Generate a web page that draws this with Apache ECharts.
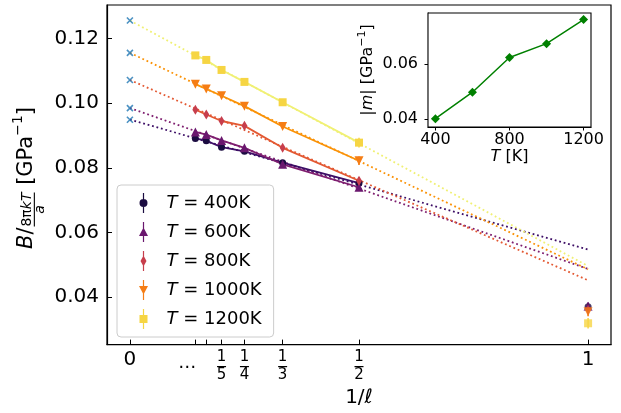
<!DOCTYPE html>
<html>
<head>
<meta charset="utf-8">
<script src="https://cdn.jsdelivr.net/npm/echarts@6/dist/echarts.min.js"></script>
<style>
  html, body { margin: 0; padding: 0; background: #fff; }
  #chart { width: 621px; height: 413px; }
</style>
</head>
<body>
<div id="chart"></div>
<script>
const FONT = 'DejaVu Sans';

// x positions of the measured points (1/l)
const invL = [1/7, 1/6, 1/5, 1/4, 1/3, 1/2];
const temps = ['400K', '600K', '800K', '1000K', '1200K'];

// B / (8 pi k T / a) at each 1/l, one array per temperature
const b400 = [0.0891, 0.0884, 0.0864, 0.0851, 0.0816, 0.0753];
const b600 = [0.0911, 0.0903, 0.0885, 0.0862, 0.0811, 0.0740];
const b800 = [0.0980, 0.0965, 0.0945, 0.0930, 0.0862, 0.0760];
const b1000 = [0.1059, 0.1044, 0.1023, 0.0991, 0.0928, 0.0822];
const b1200 = [0.1148, 0.1134, 0.1103, 0.1066, 0.1003, 0.0878];
const bAtOne = [0.0370, 0.0372, 0.0361, 0.0355, 0.0319];

// error bars
const err400 = [0.0004, 0.0004, 0.0004, 0.0004, 0.0006, 0.0010];
const err600 = [0.0004, 0.0004, 0.0004, 0.0004, 0.0006, 0.0010];
const err800 = [0.0005, 0.0005, 0.0005, 0.0005, 0.0007, 0.0012];
const err1000 = [0.0005, 0.0005, 0.0005, 0.0005, 0.0008, 0.0013];
const err1200 = [0.0005, 0.0005, 0.0005, 0.0006, 0.0009, 0.0015];
const errAtOne = [0.0012, 0.0012, 0.0013, 0.0014, 0.0016];

// linear fits: value at 1/l = 0 (crosses) and at 1/l = 1
const fitAtZero = [0.0949, 0.0985, 0.1072, 0.1156, 0.1256];
const fitAtOne = [0.0547, 0.0487, 0.0452, 0.0486, 0.0496];

// inset: |m| against T
const insetT = [400, 600, 800, 1000, 1200];
const slopeAbs = [0.0401, 0.0497, 0.0623, 0.0673, 0.0760];
const slopeErr = [0.0008, 0.0008, 0.0016, 0.0010, 0.0010];

// ticks
const xTickVals = [0, 1/7, 1/6, 1/5, 1/4, 1/3, 1/2, 1];
const xLabelVals = [0, 1/8, 1/5, 1/4, 1/3, 1/2, 1];
const xLabelText = ['0', '…', '1/5', '1/4', '1/3', '1/2', '1'];
const yTickVals = [0.04, 0.06, 0.08, 0.10, 0.12];
const insetXTicks = [400, 800, 1200];
const insetYTicks = [0.04, 0.06];

const bAll = [b400, b600, b800, b1000, b1200];
const errAll = [err400, err600, err800, err1000, err1200];

const markerColors = ['#1b0c41', '#6a176e', '#c73e4c', '#f57d15', '#f6d543'];
const lineColors = ['#3d0e66', '#7e1e6f', '#e35933', '#fa9207', '#f0f074'];
const symbols = ['circle', 'triangle', 'diamond', 'triangle', 'rect'];
const symbolSizes = [7, 9, [6, 10], 9, 8];
const symbolRot = [0, 0, 0, 180, 0];
const legendIcons = [
  'path://M4.4,0h1.2v20h-1.2Z M1,10a4,4 0 1,1 8,0a4,4 0 1,1 -8,0Z',
  'path://M4.4,0h1.2v20h-1.2Z M5,5.5L9.5,14H0.5Z',
  'path://M4.4,0h1.2v20h-1.2Z M5,4.5L8,10L5,15.5L2,10Z',
  'path://M4.4,0h1.2v20h-1.2Z M0.5,6H9.5L5,14.5Z',
  'path://M4.4,0h1.2v20h-1.2Z M1,6H9V14H1Z'
];

function errorSeries(data, color, xi) {
  return {
    type: 'custom',
    xAxisIndex: xi, yAxisIndex: xi,
    silent: true,
    z: 3,
    data: data,
    renderItem: function (params, api) {
      const x = api.value(0), y = api.value(1), e = api.value(2);
      const p1 = api.coord([x, y - e]);
      const p2 = api.coord([x, y + e]);
      return {
        type: 'line',
        shape: { x1: p1[0], y1: p1[1], x2: p2[0], y2: p2[1] },
        style: { stroke: color, lineWidth: 1.5 }
      };
    }
  };
}

function xLabelFormat(v) {
  let idx = xLabelVals.findIndex(function (t) { return Math.abs(t - v) < 1e-6; });
  if (idx < 0) return '';
  const t = xLabelText[idx];
  if (t.indexOf('/') >= 0) {
    const p = t.split('/');
    return '{n|' + p[0] + '}\n{bar|}\n{d|' + p[1] + '}';
  }
  if (t === '…') return '{dots|…}';
  return '{big|' + t + '}';
}

const series = [];
temps.forEach(function (name, i) {
  const pts = invL.map(function (x, j) { return [x, bAll[i][j], errAll[i][j]]; });
  pts.push([1, bAtOne[i], errAtOne[i]]);
  series.push({
    name: name + '-fit',
    type: 'line',
    data: [[0, fitAtZero[i]], [1, fitAtOne[i]]],
    showSymbol: false,
    silent: true,
    z: 1,
    lineStyle: { color: lineColors[i], width: 1.8, type: [1.8, 2.8], cap: 'butt' }
  });
  series.push(errorSeries(pts, markerColors[i], 0));
  series.push({
    name: name,
    type: 'line',
    data: invL.map(function (x, j) { return [x, bAll[i][j]]; }),
    symbol: symbols[i],
    symbolSize: symbolSizes[i],
    symbolRotate: symbolRot[i],
    showAllSymbol: true,
    z: 4,
    itemStyle: { color: markerColors[i] },
    lineStyle: { color: lineColors[i], width: 1.8 }
  });
  series.push({
    name: name + '-one',
    type: 'scatter',
    data: [[1, bAtOne[i]]],
    symbol: symbols[i],
    symbolSize: symbolSizes[i],
    symbolRotate: symbolRot[i],
    z: 4,
    itemStyle: { color: markerColors[i] }
  });
});
series.push({
  name: 'intercepts',
  type: 'scatter',
  data: fitAtZero.map(function (v) { return [0, v]; }),
  symbol: 'path://M0,0L10,10M10,0L0,10',
  symbolSize: 6,
  z: 5,
  itemStyle: { color: 'none', borderColor: '#1f77b4', borderWidth: 1.6 }
});
series.push(errorSeries(insetT.map(function (t, j) { return [t, slopeAbs[j], slopeErr[j]]; }), '#008000', 1));
series.push({
  name: 'slope',
  type: 'line',
  xAxisIndex: 1, yAxisIndex: 1,
  data: insetT.map(function (t, j) { return [t, slopeAbs[j]]; }),
  symbol: 'diamond',
  symbolSize: [9, 9],
  z: 10,
  itemStyle: { color: '#008000' },
  lineStyle: { color: '#008000', width: 1.5 }
});

// rotated y-axis title  B/(8πkT/a) [GPa^-1]
function textWidth(txt, font) {
  const c = document.createElement('canvas').getContext('2d');
  c.font = font;
  return c.measureText(txt).width;
}
const yl = 21, ys = 14, ysup = 14;
const wB = textWidth('B', 'italic ' + yl + 'px ' + FONT);
const wSl = textWidth('/', yl + 'px ' + FONT);
const wNum = textWidth('8π', ys + 'px ' + FONT) + textWidth('kT', 'italic ' + ys + 'px ' + FONT);
const wSp = textWidth(' ', yl + 'px ' + FONT);
const wG = textWidth('[GPa', yl + 'px ' + FONT);
const wSup = textWidth('−1', ysup + 'px ' + FONT);
const wEnd = textWidth(']', yl + 'px ' + FONT);
const total = wB + wSl + wNum + 2 + wSp + wG + wSup + wEnd;
let cx = -total / 2;
const yChildren = [];
yChildren.push({ type: 'text', x: cx, y: -6, style: { text: 'B', font: 'italic ' + yl + 'px ' + FONT, fill: '#000', verticalAlign: 'middle' } });
cx += wB;
yChildren.push({ type: 'text', x: cx, y: -6, style: { text: '/', font: yl + 'px ' + FONT, fill: '#000', verticalAlign: 'middle' } });
cx += wSl;
const fc = cx + 1 + wNum / 2;
yChildren.push({ type: 'text', x: fc, y: -6, style: { text: '8π{i|kT}', font: ys + 'px ' + FONT, fill: '#000', align: 'center', verticalAlign: 'middle', rich: { i: { fontStyle: 'italic', fontSize: ys, fontFamily: FONT } } } });
yChildren.push({ type: 'rect', shape: { x: cx + 1, y: 0.8, width: wNum, height: 1.1 }, style: { fill: '#000' } });
yChildren.push({ type: 'text', x: fc, y: 7.5, style: { text: 'a', font: 'italic ' + ys + 'px ' + FONT, fill: '#000', align: 'center', verticalAlign: 'middle' } });
cx += wNum + 2 + wSp;
yChildren.push({ type: 'text', x: cx, y: -6, style: { text: '[GPa', font: yl + 'px ' + FONT, fill: '#000', verticalAlign: 'middle' } });
cx += wG;
yChildren.push({ type: 'text', x: cx, y: -15, style: { text: '−1', font: ysup + 'px ' + FONT, fill: '#000', verticalAlign: 'middle' } });
cx += wSup;
yChildren.push({ type: 'text', x: cx, y: -6, style: { text: ']', font: yl + 'px ' + FONT, fill: '#000', verticalAlign: 'middle' } });

const chart = echarts.init(document.getElementById('chart'), null, { renderer: 'canvas' });
chart.setOption({
  animation: false,
  backgroundColor: '#fff',
  textStyle: { fontFamily: FONT, color: '#000' },
  grid: [
    { left: 107, right: 10, top: 5, bottom: 65, show: true, borderColor: '#000', borderWidth: 1.2, backgroundColor: 'transparent' },
    { left: 428, right: 30, top: 13, bottom: 286, show: true, borderColor: '#000', borderWidth: 1.1, backgroundColor: '#fff', z: 8 }
  ],
  xAxis: [
    {
      type: 'value', gridIndex: 0, min: -0.05, max: 1.05,
      axisLine: { show: true, onZero: false, lineStyle: { color: '#000', width: 1.2 } },
      axisTick: { show: true, inside: true, length: 5, customValues: xTickVals, lineStyle: { color: '#000', width: 1 } },
      axisLabel: {
        customValues: xLabelVals, formatter: xLabelFormat, margin: 6, color: '#000',
        rich: {
          big: { fontSize: 20, lineHeight: 18, fontFamily: FONT, color: '#000' },
          dots: { fontSize: 18, lineHeight: 26, fontFamily: FONT, color: '#000' },
          n: { fontSize: 15, lineHeight: 14, fontFamily: FONT, color: '#000', align: 'center' },
          bar: { width: 9, height: 1.2, lineHeight: 4, backgroundColor: '#000', align: 'center' },
          d: { fontSize: 15, lineHeight: 14, fontFamily: FONT, color: '#000', align: 'center' }
        }
      },
      splitLine: { show: false },
      name: '1/{i|ℓ}', nameLocation: 'middle', nameGap: 42,
      nameTextStyle: { fontSize: 20, fontFamily: FONT, color: '#000', rich: { i: { fontStyle: 'italic', fontSize: 20, fontFamily: FONT } } }
    },
    {
      type: 'value', gridIndex: 1, min: 360, max: 1240,
      axisLine: { show: true, onZero: false, lineStyle: { color: '#000', width: 1.1 } },
      axisTick: { show: true, inside: false, length: 3.5, customValues: insetXTicks, lineStyle: { color: '#000' } },
      axisLabel: { customValues: insetXTicks, formatter: function (v) { return String(v); }, fontSize: 16, margin: 5, color: '#000', fontFamily: FONT },
      splitLine: { show: false },
      name: '{i|T} [K]', nameLocation: 'middle', nameGap: 22,
      nameTextStyle: { fontSize: 16, fontFamily: FONT, color: '#000', rich: { i: { fontStyle: 'italic', fontSize: 16, fontFamily: FONT } } }
    }
  ],
  yAxis: [
    {
      type: 'value', gridIndex: 0, min: 0.0253, max: 0.1304,
      axisLine: { show: true, onZero: false, lineStyle: { color: '#000', width: 1.2 } },
      axisTick: { show: true, inside: true, length: 5, customValues: yTickVals, lineStyle: { color: '#000' } },
      axisLabel: { customValues: yTickVals, formatter: function (v) { return v.toFixed(2); }, fontSize: 20, margin: 8, color: '#000', fontFamily: FONT },
      splitLine: { show: false }
    },
    {
      type: 'value', gridIndex: 1, min: 0.0371, max: 0.0784,
      axisLine: { show: true, onZero: false, lineStyle: { color: '#000', width: 1.1 } },
      axisTick: { show: true, inside: false, length: 3.5, customValues: insetYTicks, lineStyle: { color: '#000' } },
      axisLabel: { customValues: insetYTicks, formatter: function (v) { return v.toFixed(2); }, fontSize: 16, margin: 10, color: '#000', fontFamily: FONT },
      splitLine: { show: false },
      name: '|{i|m}| [GPa{s|−1}]', nameLocation: 'middle', nameGap: 36, nameRotate: 90,
      nameTextStyle: {
        fontSize: 16, fontFamily: FONT, color: '#000', lineHeight: 22,
        rich: {
          i: { fontStyle: 'italic', fontSize: 16, fontFamily: FONT, lineHeight: 22 },
          s: { fontSize: 11, fontFamily: FONT, lineHeight: 12, verticalAlign: 'top' }
        }
      }
    }
  ],
  legend: {
    left: 117, top: 185, orient: 'vertical',
    selectedMode: false,
    data: temps.map(function (n, i) { return { name: n, icon: legendIcons[i] }; }),
    itemWidth: 32, itemHeight: 20, itemGap: 9,
    padding: [8, 12, 8, 22],
    backgroundColor: 'rgba(255,255,255,0.85)',
    borderColor: '#cccccc', borderWidth: 1, borderRadius: 4,
    formatter: function (n) { return '{i|T} = ' + n; },
    textStyle: { fontSize: 18, fontFamily: FONT, color: '#000', padding: [0, 0, 0, 2], rich: { i: { fontStyle: 'italic', fontSize: 18, fontFamily: FONT } } }
  },
  graphic: [{ type: 'group', x: 33, y: 178, rotation: Math.PI / 2, children: yChildren }],
  series: series
});
</script>
</body>
</html>
